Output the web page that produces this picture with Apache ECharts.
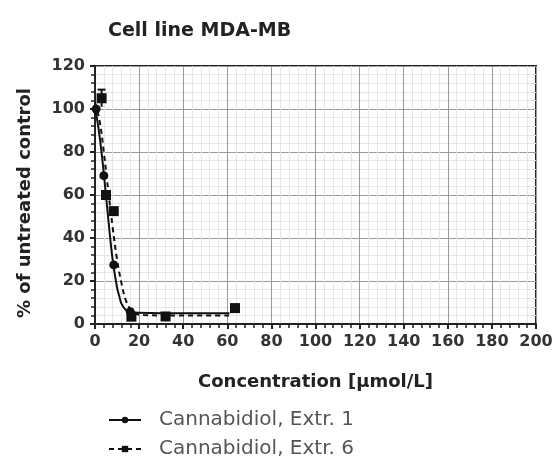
<!DOCTYPE html>
<html><head><meta charset="utf-8">
<script src="https://cdn.jsdelivr.net/npm/echarts@6/dist/echarts.min.js"></script>
<style>html,body{margin:0;padding:0;background:#fff}#c{width:557px;height:459px}</style>
</head><body><div id="c"></div>
<script>
const title = 'Cell line MDA-MB';
const xName = 'Concentration [µmol/L]';
const yName = '% of untreated control';
const seriesNames = ['Cannabidiol, Extr. 1', 'Cannabidiol, Extr. 6'];
// measured points
const ext1X = [0.5, 4, 8.5, 16];
const ext1Y = [100, 69, 27.5, 5.7];
const ext6X = [3, 5, 8.5, 16.5, 32, 63.5];
const ext6Y = [105, 60, 52.5, 3.4, 3.5, 7.4];
// error bar (x, low, high)
const errX = [3];
const errLow = [101];
const errHigh = [109];
// fitted curves
const fit1X = [0, 2, 4, 6, 8, 10, 11, 12, 14, 16, 20, 30, 61];
const fit1Y = [101, 88, 70, 49, 30, 17, 13, 9.5, 6.5, 5.6, 5.2, 5, 5];
const fit6X = [0, 2, 4, 6, 8, 10, 12, 14, 16, 18, 22, 30, 61];
const fit6Y = [103, 95, 80, 62, 45, 30, 19, 11, 7, 5, 4.2, 4, 4];

const pairs = (xs, ys) => xs.map((x, i) => [x, ys[i]]);
const chart = echarts.init(document.getElementById('c'));
const ff = 'DejaVu Sans, Verdana, sans-serif';
const nameStyle = { fontFamily: ff, fontSize: 18, fontWeight: 'bold', color: '#222' };
const axisCommon = {
  axisLine: { show: true, lineStyle: { color: '#222', width: 2 } },
  axisTick: { show: true, length: 5, lineStyle: { color: '#222', width: 2 } },
  minorTick: { show: true, splitNumber: 5, length: 4, lineStyle: { color: '#222', width: 1.5 } },
  axisLabel: { fontFamily: ff, fontSize: 16, fontWeight: 'bold', color: '#333', margin: 10 },
  splitLine: { show: true, lineStyle: { color: '#999', width: 1 } },
  minorSplitLine: { show: true, lineStyle: { color: '#e6e6e6', width: 1 } }
};
chart.setOption({
  animation: false,
  title: { text: title, left: 103, top: 17, textStyle: { fontFamily: ff, fontSize: 19, fontWeight: 'bold', color: '#222' } },
  grid: { left: 95, right: 21, top: 66, bottom: 135, show: true, borderColor: '#222', borderWidth: 2 },
  legend: {
    orient: 'vertical', left: 108, top: 410, height: 49, padding: 0, itemGap: 9, itemWidth: 32, itemHeight: 8,
    textStyle: { fontFamily: ff, fontSize: 20, color: '#555', padding: [0, 0, 0, 13] },
    data: seriesNames
  },
  xAxis: Object.assign({
    type: 'value', min: 0, max: 200, interval: 20,
    name: xName, nameLocation: 'middle', nameGap: 49, nameTextStyle: nameStyle
  }, axisCommon),
  yAxis: Object.assign({
    type: 'value', min: 0, max: 120, interval: 20,
    name: yName, nameLocation: 'middle', nameGap: 61, nameRotate: 90,
    nameTextStyle: Object.assign({ padding: [0, 16, 0, 0] }, nameStyle)
  }, axisCommon),
  series: [
    { name: seriesNames[0], type: 'line', data: pairs(fit1X, fit1Y), smooth: 0.4, showSymbol: false, symbol: 'circle', symbolSize: 7,
      lineStyle: { color: '#111', width: 2 }, itemStyle: { color: '#111' }, z: 3 },
    { name: seriesNames[1], type: 'line', data: pairs(fit6X, fit6Y), smooth: 0.4, showSymbol: false, symbol: 'rect', symbolSize: 7,
      lineStyle: { color: '#111', width: 2, type: [5, 4] }, itemStyle: { color: '#111' }, z: 3 },
    { name: seriesNames[0], type: 'scatter', data: pairs(ext1X, ext1Y), symbol: 'circle', symbolSize: 9,
      itemStyle: { color: '#111', opacity: 1 }, z: 4 },
    { name: seriesNames[1], type: 'scatter', data: pairs(ext6X, ext6Y), symbol: 'rect', symbolSize: 10,
      itemStyle: { color: '#111', opacity: 1 }, z: 4 },
    { name: seriesNames[1], type: 'custom', z: 4,
      data: errX.map((x, i) => [x, errLow[i], errHigh[i]]),
      renderItem: function (params, api) {
        const lo = api.coord([api.value(0), api.value(1)]);
        const hi = api.coord([api.value(0), api.value(2)]);
        return { type: 'group', children: [
          { type: 'line', shape: { x1: lo[0], y1: lo[1], x2: hi[0], y2: hi[1] }, style: { stroke: '#111', lineWidth: 2 } },
          { type: 'line', shape: { x1: hi[0] - 4, y1: hi[1], x2: hi[0] + 4, y2: hi[1] }, style: { stroke: '#111', lineWidth: 2 } }
        ] };
      } }
  ]
});
</script></body></html>
